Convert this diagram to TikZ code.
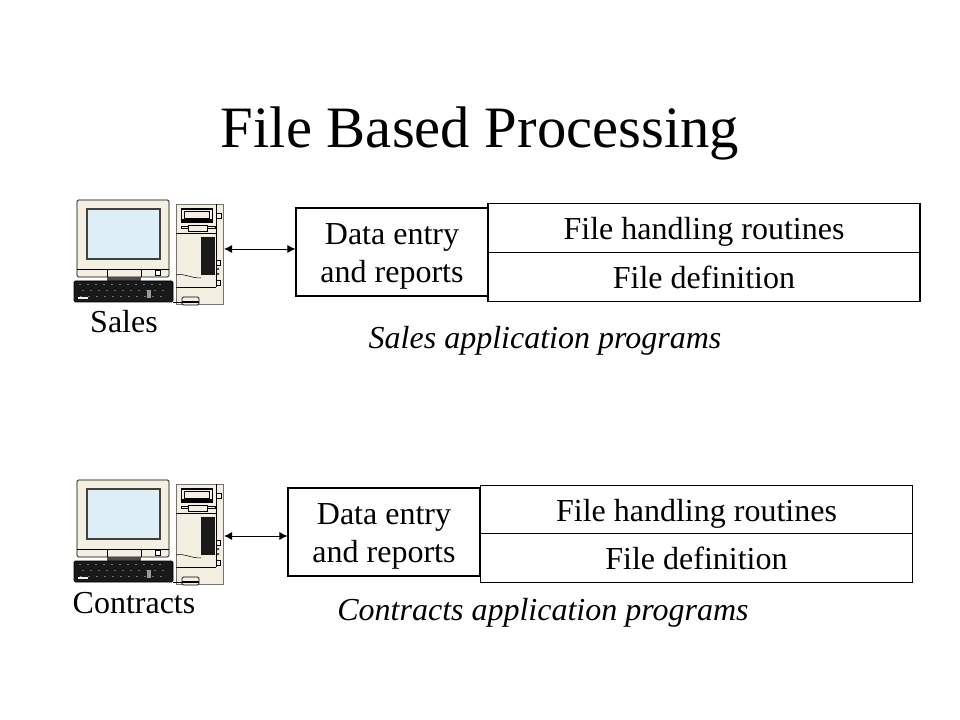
\documentclass[tikz,border=0pt]{standalone}
\usepackage{fontspec}
\setmainfont{Liberation Serif}
\usetikzlibrary{arrows.meta}
\definecolor{casing}{RGB}{243,240,226}
\definecolor{glass}{RGB}{222,238,246}
\tikzset{
    boxtext/.style={draw, fill=white, line width=0.8pt, inner sep=0pt, align=center, font=\fontsize{24}{28.5}\selectfont},
    entrybox/.style={boxtext, minimum width=144pt, minimum height=66pt, text height=47pt, text depth=1.2pt},
    filebox/.style={boxtext, minimum width=324pt, minimum height=36.75pt, text height=17.5pt, text depth=0.5pt},
    plain/.style={inner sep=0pt, font=\fontsize{24}{28}\selectfont},
    link/.style={{Latex[length=6pt,width=6pt]}-{Latex[length=6pt,width=6pt]}, line width=0.7pt},
    pics/computer/.style={code={
        % monitor
        \draw[fill=casing, rounded corners=1pt, line width=0.6pt] (0,0) rectangle (92,77);
        \draw[fill=glass, draw=black!75, line width=1.2pt] (10,9) rectangle (83,59);
        \draw[line width=0.4pt] (0,69) -- (92,69) (30,69) -- (30,77) (64,69) -- (64,77);
        \draw[fill=white, line width=0.5pt] (78,70) rectangle (83,75);
        \fill[black!70] (30,77) rectangle (64,81);
        % keyboard
        \draw[fill=black!90, rounded corners=1pt] (-3,81) rectangle (96,102);
        \foreach \kx in {2,10,...,86} {
            \fill[black!55] (\kx,84) rectangle ++(2,1);
            \fill[black!60] (\kx+3,90) rectangle ++(1.5,1);
            \fill[black!55] (\kx+1,96) rectangle ++(2,1);
        }
        \fill[casing] (1,97) rectangle (11,99);
        \fill[black!40] (70,90) rectangle (74,98);
        % tower
        \draw[fill=casing, draw=black!55, line width=0.7pt] (99,4) rectangle (146,104);
        \draw[line width=0.5pt] (99,87) -- (139,87) (139,4) -- (139,87);
        \draw[line width=0.4pt] (99,33) -- (139,33);
        \draw[fill=casing, line width=0.5pt] (104,8) rectangle (135,22);
        \fill[black] (104,8) rectangle (135,10);
        \draw[fill=casing, line width=0.5pt] (107,11) rectangle (132,18);
        \fill[black] (104,19) rectangle (135,22);
        \draw[fill=casing, line width=0.5pt] (104,26) rectangle (138,28);
        \draw[fill=casing, line width=0.5pt] (111,25) rectangle (130,31);
        \fill[black!90] (124,37) rectangle (138,75);
        \draw[fill=casing, line width=0.5pt] (139,13) rectangle (144,18);
        \draw[fill=casing, line width=0.5pt] (139,60) rectangle (143,65);
        \draw[fill=casing, line width=0.5pt] (139,80) rectangle (143,85);
        \fill[black!70] (140,68) rectangle (142,70) (140,73) rectangle (142,75);
        \draw[line width=0.4pt] (99,75) .. controls (108,73) and (112,78) .. (124,78);
        % mouse
        \draw[line width=0.7pt] (96,102) -- (105,102);
        \draw[fill=casing, rounded corners=1pt, line width=0.6pt] (105,97) rectangle (122,105);
        \draw[line width=0.8pt] (105,102) -- (122,102);
        \coordinate (-port) at (147,49);
    }}
}
\begin{document}
\begin{tikzpicture}[x=0.75pt, y=-0.75pt]
\useasboundingbox (0,0) rectangle (960,720);
\node[inner sep=0pt, font=\fontsize{44}{50}\selectfont] at (480,133) (TITLE) {File Based Processing};

\pic (PC1) at (77,200) {computer};
\node[entrybox] at (392,252) (ENTRY1) {Data entry\\and reports};
\node[filebox] at (704,228) (HANDLE1) {File handling routines};
\node[filebox] at (704,277) (DEFN1) {File definition};
\node[plain] at (124,322) (USER1) {Sales};
\node[plain, font=\fontsize{24}{28}\itshape] at (545,341) (APP1) {Sales application programs};
\draw[link] (PC1-port) -- (PC1-port -| ENTRY1.west);

\pic (PC2) at (77,480) {computer};
\node[entrybox] at (384,532) (ENTRY2) {Data entry\\and reports};
\node[filebox] at (696.5,510) (HANDLE2) {File handling routines};
\node[filebox] at (696.5,558) (DEFN2) {File definition};
\node[plain] at (134,603) (USER2) {Contracts};
\node[plain, font=\fontsize{24}{28}\itshape] at (543,613) (APP2) {Contracts application programs};
\coordinate (PORT2) at ([yshift=-5.25pt]PC2-port);
\draw[link] (PORT2) -- (PORT2 -| ENTRY2.west);
\end{tikzpicture}
\end{document}
